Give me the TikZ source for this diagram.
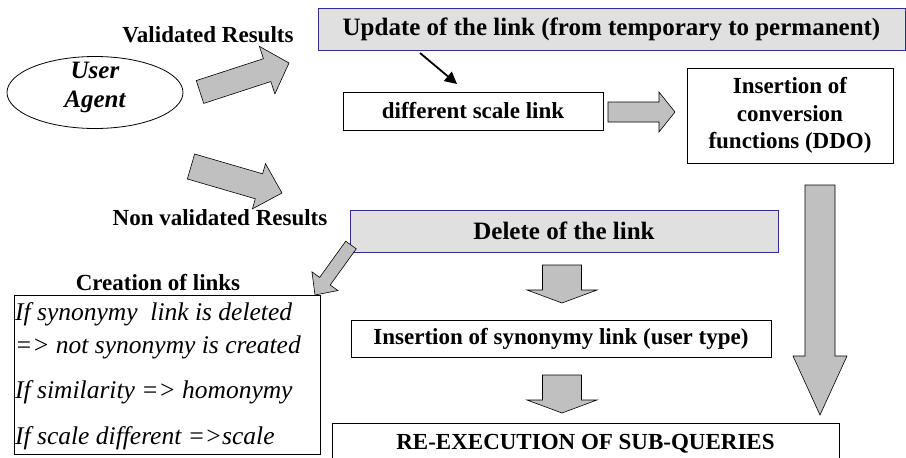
\documentclass[tikz,border=0pt]{standalone}
\usepackage{fontspec}
\setmainfont{Liberation Serif}
\usetikzlibrary{calc,shapes.geometric,arrows.meta}

\definecolor{arrowgray}{RGB}{192,192,192}
\definecolor{boxgray}{RGB}{224,224,224}
\definecolor{navyline}{RGB}{44,44,150}

% Block arrow between two named points:
% #1 tail, #2 tip, #3 shaft half-width, #4 head half-width, #5 head length
\newcommand\blockarrow[5]{%
  \draw[block]
    ($(#1)!#3!90:(#2)$)
    -- ($($(#2)!#5!(#1)$)!#3!90:(#2)$)
    -- ($($(#2)!#5!(#1)$)!#4!90:(#2)$)
    -- (#2)
    -- ($($(#2)!#5!(#1)$)!#4!-90:(#2)$)
    -- ($($(#2)!#5!(#1)$)!#3!-90:(#2)$)
    -- ($(#1)!#3!-90:(#2)$)
    -- cycle;}

\begin{document}
\begin{tikzpicture}[x=1pt,y=-1pt,
  bt/.style={font=\fontsize{23}{27.5}\selectfont\bfseries},
  bigt/.style={font=\fontsize{25}{30}\selectfont\bfseries},
  plainbox/.style={draw=black, line width=0.8pt, fill=white, inner sep=0pt},
  graybox/.style={draw=navyline, line width=1pt, fill=boxgray, inner sep=0pt},
  block/.style={draw=black, line width=0.6pt, fill=arrowgray, line join=miter},
]
\useasboundingbox (0,0) rectangle (906,458);
\fill[white] (0,0) rectangle (906,458);
\clip (0,0) rectangle (906,458);

% user agent
\node[ellipse, draw=black, line width=0.8pt, minimum width=176, minimum height=72, inner sep=0pt] (ua) at (95,92.5) {};
\node[font=\fontsize{25}{28.5}\selectfont\bfseries\itshape, align=center, inner sep=0pt] (uat) at ($(ua.center)+(0,-5)$) {User\\Agent};

% labels
\node[bt, inner sep=0pt] (valid) at (208,35) {Validated Results};
\node[bt, inner sep=0pt] (nonv) at (220,218) {Non validated Results};
\node[bt, inner sep=0pt] (cre) at (158,283) {Creation of links};

% boxes
\node[graybox, bigt, minimum width=587, minimum height=42] (upd) at (611.5,29) {Update of the link (from temporary to permanent)};
\node[plainbox, bt, minimum width=260, minimum height=38] (diff) at (473,111) {different scale link};
\node[plainbox, bt, align=center, minimum width=206, minimum height=95] (conv) at (790,115.5) {Insertion of\\conversion\\functions (DDO)};
\node[graybox, bigt, minimum width=428, minimum height=42] (del) at (564,231) {Delete of the link};
\node[plainbox, bt, minimum width=420, minimum height=37] (syn) at (561,338.5) {Insertion of synonymy link (user type)};
\node[plainbox, bt, minimum width=507, minimum height=42] (reexec) at (585.5,444) {RE-EXECUTION OF SUB-QUERIES};

% rules box
\node[plainbox, minimum width=306, minimum height=159] (rules) at (167,374.5) {};
\node[anchor=north west, inner sep=0pt, align=left, font=\fontsize{25.5}{33}\selectfont\itshape] (rulest) at (15,302)
  {If synonymy\ \ link is deleted\\=> not synonymy is created\\[12pt]If similarity => homonymy\\[13pt]If scale different =>scale};

% block arrows
\coordinate (a1t) at (200,92);   \coordinate (a1h) at (289,63);
\coordinate (a2t) at (191,166.5);\coordinate (a2h) at (282,193);
\coordinate (a3t) at (608,112);  \coordinate (a3h) at (675,112);
\coordinate (a4t) at (820,185);  \coordinate (a4h) at (820,415);
\coordinate (a5t) at (351,245);  \coordinate (a5h) at (315,295);
\coordinate (a6t) at (562,265);  \coordinate (a6h) at (562,303);
\coordinate (a7t) at (562,375);  \coordinate (a7h) at (562,413);

\blockarrow{a1t}{a1h}{12pt}{25pt}{23pt}
\blockarrow{a2t}{a2h}{13pt}{23.5pt}{24pt}
\blockarrow{a3t}{a3h}{10pt}{20pt}{16pt}
\blockarrow{a4t}{a4h}{15pt}{27pt}{59pt}
\blockarrow{a5t}{a5h}{6.5pt}{16pt}{17pt}
\blockarrow{a6t}{a6h}{19.5pt}{35pt}{13pt}
\blockarrow{a7t}{a7h}{19.5pt}{35pt}{13pt}

% thin black arrow
\coordinate (k1) at (420,53);
\coordinate (k2) at (457,84);
\draw[line width=1.8pt, -{Triangle[length=12pt,width=12pt]}] (k1) -- (k2);
\end{tikzpicture}
\end{document}
